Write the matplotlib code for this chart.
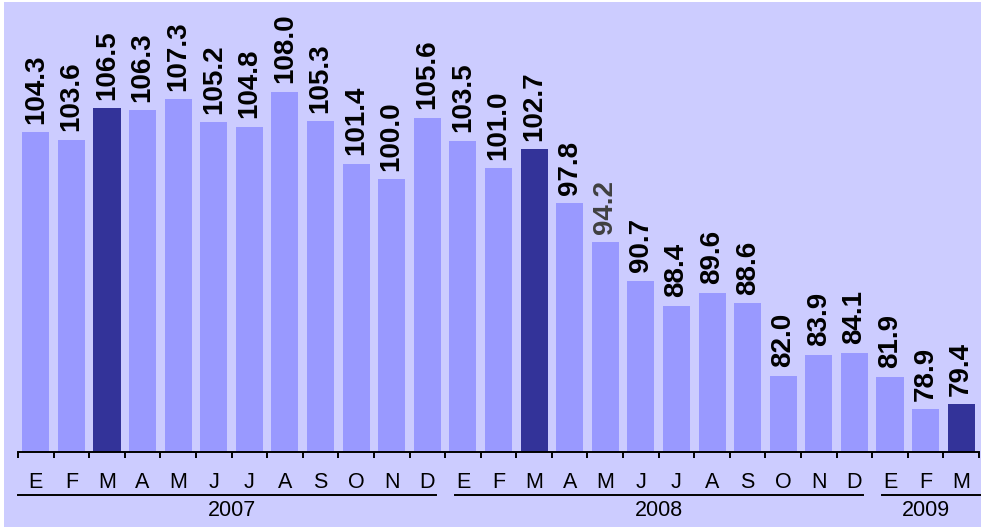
import numpy as np
import matplotlib.pyplot as plt
from matplotlib.patches import Rectangle

plt.rcParams['font.family'] = ['Liberation Sans', 'DejaVu Sans']

months = ['E', 'F', 'M', 'A', 'M', 'J', 'J', 'A', 'S', 'O', 'N', 'D',
          'E', 'F', 'M', 'A', 'M', 'J', 'J', 'A', 'S', 'O', 'N', 'D',
          'E', 'F', 'M']
values = [104.3, 103.6, 106.5, 106.3, 107.3, 105.2, 104.8, 108.0, 105.3, 101.4, 100.0, 105.6,
          103.5, 101.0, 102.7, 97.8, 94.2, 90.7, 88.4, 89.6, 88.6, 82.0, 83.9, 84.1,
          81.9, 78.9, 79.4]
highlight = [2, 14, 26]          # march of each year
years = ['2007', '2008', '2009']
year_start = [0, 12, 24]
year_end = [11, 23, 26]

bg = '#ccccff'
light = '#9999ff'
dark = '#333399'

n = len(values)
x = np.arange(n)
colors = [dark if i in highlight else light for i in range(n)]

fig = plt.figure(figsize=(9.81, 5.27), dpi=100, facecolor='white')
fig.patches.append(Rectangle((4 / 981, 0), 1, 525 / 527, transform=fig.transFigure,
                             facecolor=bg, edgecolor='none', zorder=-10))
ax = fig.add_axes([18 / 981, 75 / 527, 961 / 981, 450 / 527])
ax.set_facecolor('none')

ax.bar(x, values, width=0.76, color=colors, zorder=2)
ax.set_xlim(-0.5, n - 0.5)
ax.set_ylim(75, 116.2)

for i, v in enumerate(values):
    ax.annotate(f'{v:.1f}', (i, v), xytext=(0, 6), textcoords='offset points',
                rotation=90, ha='center', va='bottom', fontsize=20, fontweight='bold',
                color='#404040' if v == 94.2 else 'black')

for s in ['top', 'right', 'left']:
    ax.spines[s].set_visible(False)
ax.spines['bottom'].set_linewidth(1.4)
ax.set_yticks([])
ax.set_xticks(np.arange(-0.5, n, 1.0))
ax.set_xticklabels([])
ax.tick_params(axis='x', direction='out', length=4, width=1.4, color='black')

trans = ax.get_xaxis_transform()
for i, m in enumerate(months):
    ax.text(i, -0.067, m, transform=trans, ha='center', va='center', fontsize=15.5)

gap = 0.27
for yr, lo, hi in zip(years, year_start, year_end):
    left = lo - 0.5 + (gap if lo > 0 else 0)
    right = hi + 0.5 - (gap if hi < n - 1 else -0.1)
    ax.plot([left, right], [-0.096, -0.096], transform=trans, color='black', lw=1.4,
            clip_on=False)
    ax.text((lo + hi) / 2, -0.129, yr, transform=trans, ha='center', va='center', fontsize=15.5)

fig.savefig('out.png', dpi=100, facecolor=fig.get_facecolor())
